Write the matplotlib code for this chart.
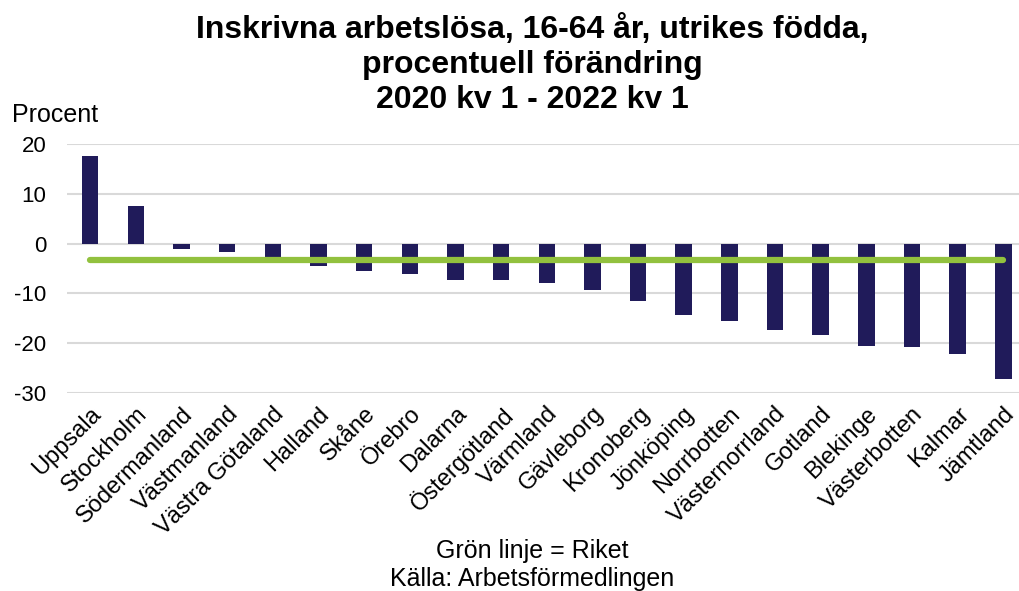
import matplotlib.pyplot as plt

plt.rcParams["font.family"] = ["Liberation Sans", "DejaVu Sans"]
plt.rcParams["axes.unicode_minus"] = False

lan = ["Uppsala", "Stockholm", "Södermanland", "Västmanland", "Västra Götaland",
       "Halland", "Skåne", "Örebro", "Dalarna", "Östergötland", "Värmland",
       "Gävleborg", "Kronoberg", "Jönköping", "Norrbotten", "Västernorrland",
       "Gotland", "Blekinge", "Västerbotten", "Kalmar", "Jämtland"]
forandring = [17.7, 7.5, -1.1, -1.7, -3.0, -4.5, -5.4, -6.1, -7.2, -7.3, -7.8,
              -9.2, -11.6, -14.4, -15.5, -17.4, -18.3, -20.6, -20.7, -22.1, -27.1]
riket = -3.3

bar_color = "#201b5a"
line_color = "#92c13e"

fig = plt.figure(figsize=(10.2, 5.91), dpi=100)
ax = fig.add_axes([0.066, 0.335, 0.94, 0.421])

x = list(range(len(lan)))
ax.bar(x, forandring, width=0.36, color=bar_color, zorder=2)
ax.plot([x[0], x[-1]], [riket, riket], color=line_color, linewidth=4.5,
        solid_capstyle="round", zorder=3)

ax.set_xlim(-0.5, len(lan) - 0.5)
ax.set_ylim(-30, 20)
ax.set_yticks([20, 10, 0, -10, -20, -30])
ax.yaxis.grid(True, color="#d9d9d9", linewidth=1.5, zorder=0)
ax.set_axisbelow(True)
for s in ax.spines.values():
    s.set_visible(False)
ax.tick_params(axis="both", length=0, labelsize=16)
ax.tick_params(axis="y", pad=15)
ax.tick_params(axis="x", pad=7)
ax.set_xticks(x)
ax.set_xticklabels(lan, rotation=45, ha="right", rotation_mode="anchor", fontsize=17)

fig.text(0.012, 0.805, "Procent", fontsize=18, ha="left", va="center")
fig.text(0.522, 0.891, "Inskrivna arbetslösa, 16-64 år, utrikes födda,\nprocentuell förändring\n2020 kv 1 - 2022 kv 1",
         fontsize=23, fontweight="bold", ha="center", va="center", linespacing=1.2)
fig.text(0.522, 0.067, "Grön linje = Riket", fontsize=18, ha="center", va="center")
fig.text(0.522, 0.02, "Källa: Arbetsförmedlingen", fontsize=18, ha="center", va="center")

fig.savefig("out.png", dpi=100)
